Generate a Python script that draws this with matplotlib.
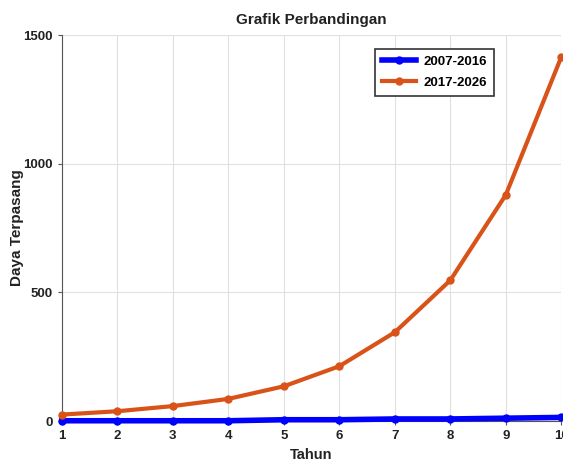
import matplotlib
matplotlib.use("Agg")
import matplotlib.pyplot as plt
from matplotlib import font_manager

names = {f.name for f in font_manager.fontManager.ttflist}
fam = 'Liberation Sans Narrow' if 'Liberation Sans Narrow' in names else 'Liberation Sans'
plt.rcParams['font.family'] = [fam, 'DejaVu Sans']

tahun = [1, 2, 3, 4, 5, 6, 7, 8, 9, 10]
seri_2007_2016 = [1, 1, 1, 1, 5, 5, 8, 8, 11, 14]
seri_2017_2026 = [25, 38, 58, 86, 135, 213, 345, 547, 879, 1415]
labels = ['2007-2016', '2017-2026']

fig = plt.figure(figsize=(5.63, 4.65), dpi=100)
ax = fig.add_axes([0.110, 0.0946, 0.887, 0.830])

ax.plot(tahun, seri_2007_2016, color='#0000FF', lw=4, marker='o', ms=5, label=labels[0], clip_on=False, zorder=3)
ax.plot(tahun, seri_2017_2026, color='#D95319', lw=3, marker='o', ms=5, label=labels[1], clip_on=False, zorder=3)

ax.set_xlim(1, 10)
ax.set_ylim(0, 1500)
ax.set_xticks(tahun)
ax.set_yticks([0, 500, 1000, 1500])
ax.grid(True, color='#E0E0E0', lw=0.8)
ax.set_axisbelow(True)
for s in ['top', 'right']:
    ax.spines[s].set_visible(False)
for s in ['left', 'bottom']:
    ax.spines[s].set_color('#555555')
ax.tick_params(direction='out', length=3, colors='#555555', labelcolor='#222222', labelsize=9.5)
for lab in ax.get_xticklabels() + ax.get_yticklabels():
    lab.set_fontweight('bold')

ax.set_title('Grafik Perbandingan', fontsize=11, fontweight='bold', color='#222222', pad=8)
ax.set_xlabel('Tahun', fontsize=10.5, fontweight='bold', color='#222222', labelpad=4)
ax.set_ylabel('Daya Terpasang', fontsize=11, fontweight='bold', color='#222222')
ax.yaxis.set_label_coords(-0.076, 0.5)

leg = ax.legend(loc='upper right', bbox_to_anchor=(0.878, 0.982), fancybox=False, framealpha=1,
                edgecolor='#333333', fontsize=9.5, handlelength=2.6, borderpad=0.55, labelspacing=0.65,
                handletextpad=0.5)
leg.get_frame().set_linewidth(1.2)
for t in leg.get_texts():
    t.set_fontweight('bold')

fig.savefig('out.png', dpi=100)
